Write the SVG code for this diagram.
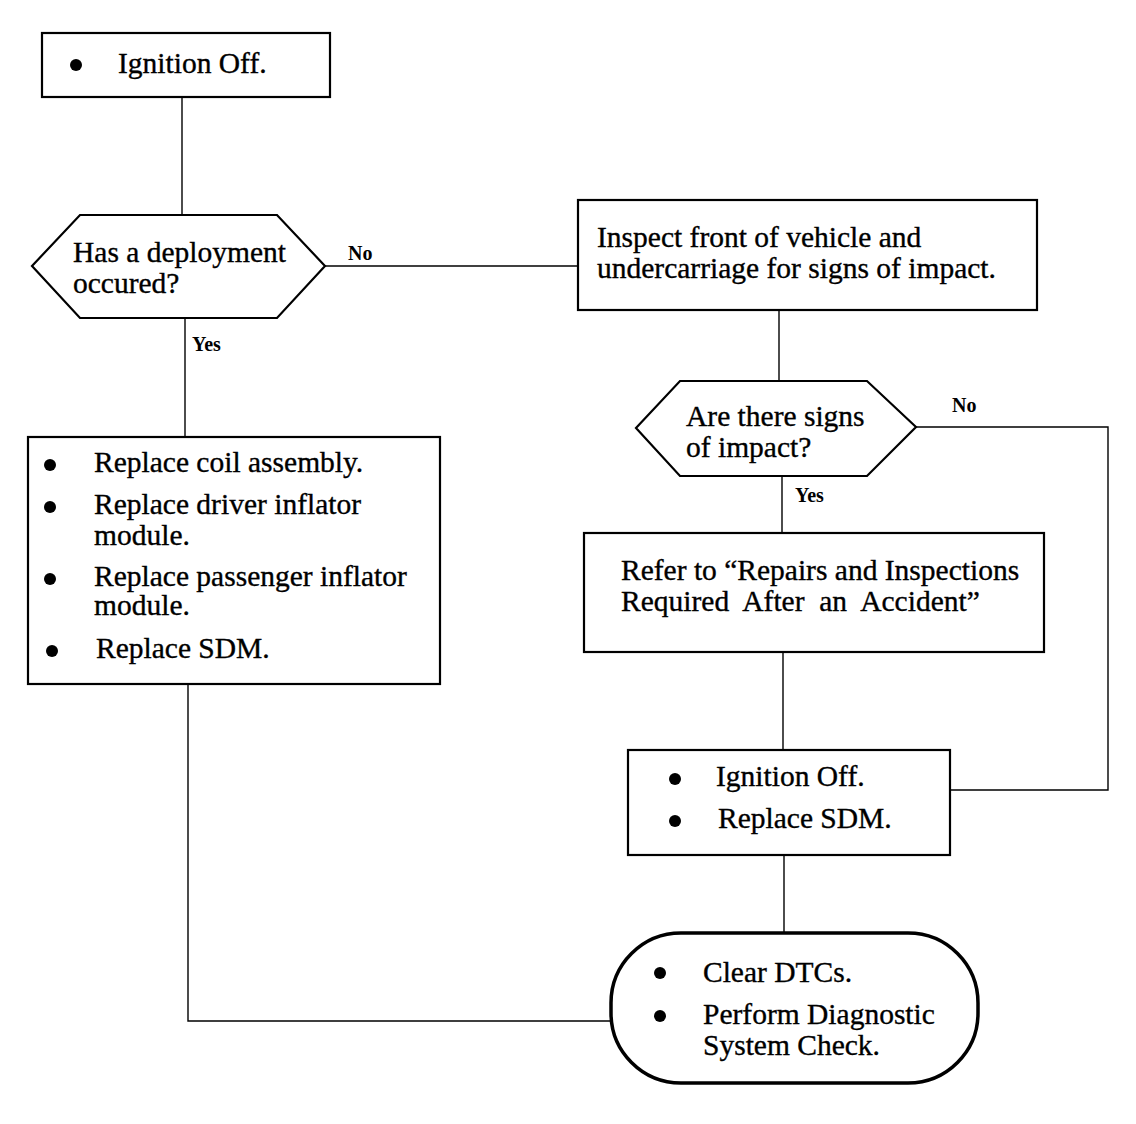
<svg xmlns="http://www.w3.org/2000/svg" width="1136" height="1124" viewBox="0 0 1136 1124">
<style>
.box{fill:#fff;stroke:#000;stroke-width:2.2}
.term{fill:#fff;stroke:#000;stroke-width:3.5}
.ln{fill:none;stroke:#000;stroke-width:1.4}
.t{font-family:"Liberation Serif","Times New Roman",serif;font-size:29.5px;fill:#000;stroke:#000;stroke-width:0.35}
.lbl{font-family:"Liberation Serif","Times New Roman",serif;font-size:20px;font-weight:bold;fill:#000}
.b{fill:#000}
</style>
<rect width="1136" height="1124" fill="#fff"/>
<g id="connectors">
<path class="ln" d="M182 97V215"/>
<path class="ln" d="M185 318V437"/>
<path class="ln" d="M325 266H578"/>
<path class="ln" d="M779 310V381"/>
<path class="ln" d="M916 427H1108V790H950"/>
<path class="ln" d="M782 476V533"/>
<path class="ln" d="M783 652V750"/>
<path class="ln" d="M784 855V933"/>
<path class="ln" d="M188 684V1021H611"/>
<text class="lbl" x="348" y="260">No</text>
<text class="lbl" x="192" y="351">Yes</text>
<text class="lbl" x="952" y="412">No</text>
<text class="lbl" x="795" y="502">Yes</text>
</g>
<g id="n1">
<rect class="box" x="42" y="33" width="288" height="64"/>
<circle class="b" cx="76" cy="65" r="6"/>
<text class="t" x="118" y="73">Ignition Off.</text>
</g>
<g id="n2">
<polygon class="box" points="32,266 80,215 277,215 325,266 277,318 80,318"/>
<text class="t" x="73" y="262">Has a deployment</text>
<text class="t" x="73" y="293">occured?</text>
</g>
<g id="n3">
<rect class="box" x="578" y="200" width="459" height="110"/>
<text class="t" x="597" y="247">Inspect front of vehicle and</text>
<text class="t" x="597" y="278">undercarriage for signs of impact.</text>
</g>
<g id="n4">
<rect class="box" x="28" y="437" width="412" height="247"/>
<circle class="b" cx="50" cy="465" r="6"/>
<text class="t" x="94" y="472">Replace coil assembly.</text>
<circle class="b" cx="50" cy="507" r="6"/>
<text class="t" x="94" y="514">Replace driver inflator</text>
<text class="t" x="94" y="545">module.</text>
<circle class="b" cx="50" cy="579" r="6"/>
<text class="t" x="94" y="586">Replace passenger inflator</text>
<text class="t" x="94" y="615">module.</text>
<circle class="b" cx="52" cy="651" r="6"/>
<text class="t" x="96" y="658">Replace SDM.</text>
</g>
<g id="n5">
<polygon class="box" points="636,428 680,381 867,381 916,427 867,476 680,476"/>
<text class="t" x="686" y="426">Are there signs</text>
<text class="t" x="686" y="457">of impact?</text>
</g>
<g id="n6">
<rect class="box" x="584" y="533" width="460" height="119"/>
<text class="t" x="621" y="580">Refer to “Repairs and Inspections</text>
<text class="t" x="621" y="611" xml:space="preserve">Required  After  an  Accident”</text>
</g>
<g id="n7">
<rect class="box" x="628" y="750" width="322" height="105"/>
<circle class="b" cx="675" cy="779" r="6"/>
<text class="t" x="716" y="786">Ignition Off.</text>
<circle class="b" cx="675" cy="821" r="6"/>
<text class="t" x="718" y="828">Replace SDM.</text>
</g>
<g id="n8">
<rect class="term" x="611" y="933" width="367" height="150" rx="70" ry="70"/>
<circle class="b" cx="660" cy="973" r="6"/>
<text class="t" x="703" y="982">Clear DTCs.</text>
<circle class="b" cx="660" cy="1016" r="6"/>
<text class="t" x="703" y="1024">Perform Diagnostic</text>
<text class="t" x="703" y="1055">System Check.</text>
</g>
</svg>
